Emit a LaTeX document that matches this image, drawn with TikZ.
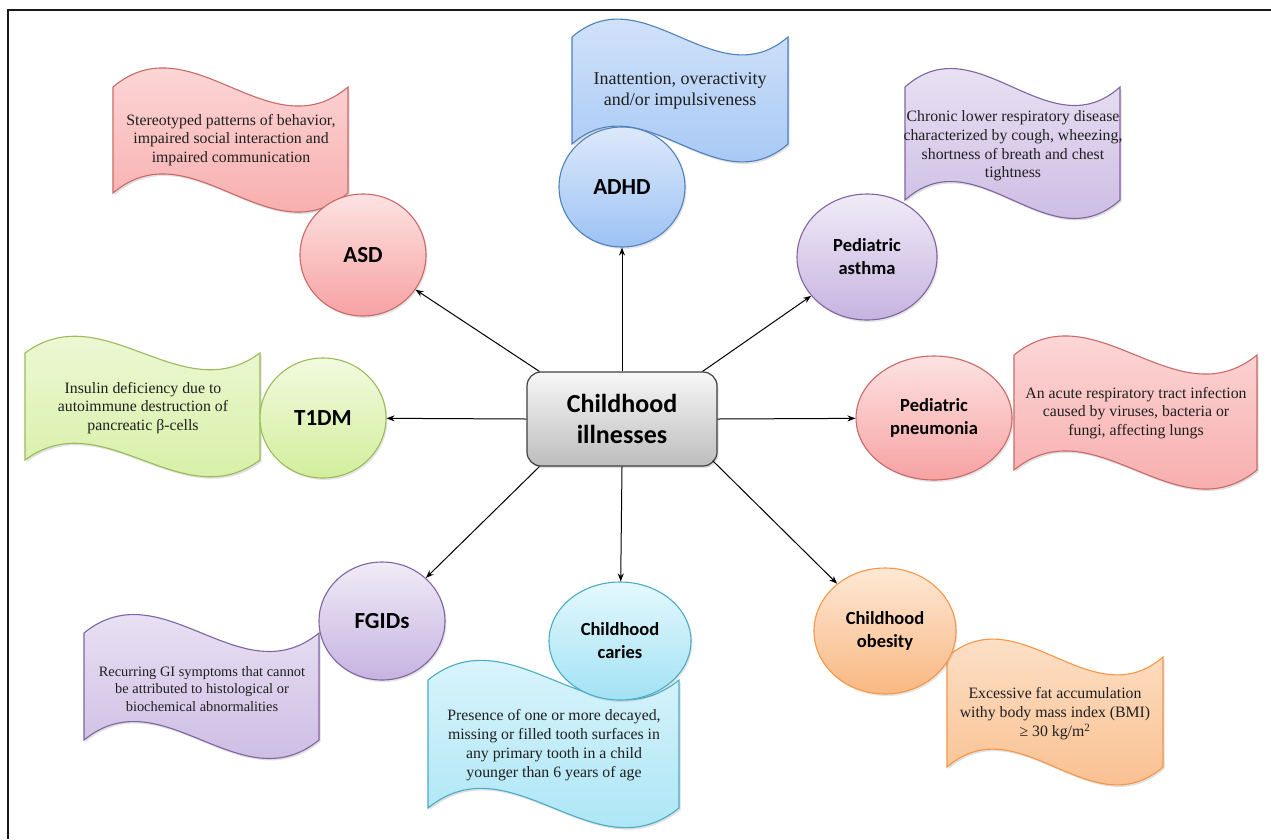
\documentclass[tikz,border=0pt]{standalone}
\usepackage{fontspec}
\setmainfont{Liberation Serif}
\newfontfamily\calb{Carlito}
\usetikzlibrary{arrows.meta,shadows,shapes.geometric,calc}

\definecolor{rtop}{HTML}{FDE2E2}\definecolor{rbot}{HTML}{F7A2A2}\definecolor{rdraw}{HTML}{C0504D}
\definecolor{btop}{HTML}{DDE9FB}\definecolor{bbot}{HTML}{9CC2F4}\definecolor{bdraw}{HTML}{4F81BD}
\definecolor{ptop}{HTML}{F0EBF7}\definecolor{pbot}{HTML}{C6B3E0}\definecolor{pdraw}{HTML}{8064A2}
\definecolor{gtop}{HTML}{F2FADF}\definecolor{gbot}{HTML}{D2EE9C}\definecolor{gdraw}{HTML}{9BBB59}
\definecolor{ctop}{HTML}{E4F8FD}\definecolor{cbot}{HTML}{A2E2F4}\definecolor{cdraw}{HTML}{4BACC6}
\definecolor{otop}{HTML}{FDE8D5}\definecolor{obot}{HTML}{F9B882}\definecolor{odraw}{HTML}{F79646}
\definecolor{stop}{HTML}{F7F7F7}\definecolor{sbot}{HTML}{BDBDBD}\definecolor{sdraw}{HTML}{404040}

\newcommand{\wavebox}[6]{% style, x, y, w, h, c
  \path[wavestyle,#1] (#2,#3) .. controls ({#2+#4/3},{#3-#6}) and ({#2+2*#4/3},{#3+#6}) .. ({#2+#4},#3)
    -- ({#2+#4},{#3+#5}) .. controls ({#2+2*#4/3},{#3+#5+#6}) and ({#2+#4/3},{#3+#5-#6}) .. (#2,{#3+#5}) -- cycle;}

\begin{document}
\begin{tikzpicture}[x=1pt,y=-1pt,
  wavestyle/.style={line width=1.1pt, drop shadow={opacity=0.25,shadow xshift=1.5pt,shadow yshift=-2pt}},
  redfill/.style={top color=rtop,bottom color=rbot,draw=rdraw!85},
  bluefill/.style={top color=btop,bottom color=bbot,draw=bdraw},
  purplefill/.style={top color=ptop,bottom color=pbot,draw=pdraw},
  greenfill/.style={top color=gtop,bottom color=gbot,draw=gdraw},
  cyanfill/.style={top color=ctop,bottom color=cbot,draw=cdraw},
  orangefill/.style={top color=otop,bottom color=obot,draw=odraw},
  bubble/.style={ellipse, line width=1.1pt, inner sep=0pt, align=center,
     drop shadow={opacity=0.2,shadow xshift=1.5pt,shadow yshift=-2pt}},
  bigl/.style={font=\calb\bfseries\fontsize{23}{27}\selectfont},
  twol/.style={font=\calb\bfseries\fontsize{18.5}{23}\selectfont},
  desc/.style={align=center, inner sep=0pt, text=black!88, font=\fontsize{15.8}{18.6}\selectfont},
  conn/.style={-{Stealth[length=8pt,width=6pt]}, line width=1pt, black}
]
\useasboundingbox (0,0) rectangle (1271,839);
\fill[white] (0,0) rectangle (1271,839);
\draw[line width=2.2pt, black!90] (8,839) -- (8,10) -- (1271,10);

% waves
\wavebox{redfill}{113}{87}{235}{106}{66}
\wavebox{bluefill}{572}{37}{216}{107}{62}
\wavebox{purplefill}{905}{87}{215}{113}{64}
\wavebox{greenfill}{25}{353}{235}{107}{58}
\wavebox{redfill}{1014}{355}{243}{115}{66}
\wavebox{purplefill}{84}{633}{235}{107}{64}
\wavebox{cyanfill}{428}{680}{251}{128}{68}
\wavebox{orangefill}{947}{657}{216}{110}{62}

% wave texts
\node[desc] (asdtxt) at (231,140) {Stereotyped patterns of behavior,\\impaired social interaction and\\impaired communication};
\node[desc, font=\fontsize{18}{21.6}\selectfont] (adhdtxt) at (680,91) {Inattention, overactivity\\and/or impulsiveness};
\node[desc] (asthtxt) at (1013,146) {Chronic lower respiratory disease\\characterized by cough, wheezing,\\shortness of breath and chest\\tightness};
\node[desc] (t1dmtxt) at (143,408) {Insulin deficiency due to\\autoimmune destruction of\\pancreatic β-cells};
\node[desc] (pnetxt) at (1136,413) {An acute respiratory tract infection\\caused by viruses, bacteria or\\fungi, affecting lungs};
\node[desc, font=\fontsize{14.4}{17.5}\selectfont] (fgtxt) at (202,689) {Recurring GI symptoms that cannot\\be attributed to histological or\\biochemical abnormalities};
\node[desc, font=\fontsize{15.8}{19}\selectfont] (cartxt) at (554,745) {Presence of one or more decayed,\\missing or filled tooth surfaces in\\any primary tooth in a child\\younger than 6 years of age};
\node[desc, font=\fontsize{15.8}{19}\selectfont] (obtxt) at (1055,714) {Excessive fat accumulation\\withy body mass index (BMI)\\≥ 30 kg/m\textsuperscript{2}};

% circles
\node[bubble, redfill, bigl, minimum width=126pt, minimum height=122pt] (asd) at (363,255) {ASD};
\node[bubble, bluefill, bigl, minimum width=126pt, minimum height=120pt] (adhd) at (622,187) {ADHD};
\node[bubble, purplefill, twol, minimum width=140pt, minimum height=126pt] (asth) at (867,257) {Pediatric\\asthma};
\node[bubble, greenfill, bigl, minimum width=126pt, minimum height=120pt] (t1dm) at (323,418) {T1DM};
\node[bubble, redfill, twol, minimum width=156pt, minimum height=124pt] (pneu) at (934,418) {Pediatric\\pneumonia};
\node[bubble, purplefill, bigl, minimum width=126pt, minimum height=118pt] (fgid) at (382,621) {FGIDs};
\node[bubble, cyanfill, twol, minimum width=142pt, minimum height=118pt] (car) at (620,641) {Childhood\\caries};
\node[bubble, orangefill, twol, minimum width=142pt, minimum height=126pt] (obe) at (885,631) {Childhood\\obesity};

% center
\node[rectangle, rounded corners=14pt, top color=stop, bottom color=sbot, draw=sdraw, line width=1.2pt,
      minimum width=190pt, minimum height=94pt, align=center, inner sep=0pt,
      font=\calb\bfseries\fontsize{26}{31}\selectfont,
      drop shadow={opacity=0.25,shadow xshift=1.5pt,shadow yshift=-2pt}] (c) at (622,419) {Childhood\\illnesses};

% connectors
\draw[conn] ([xshift=13pt]c.north west) -- (asd);
\draw[conn] (c.north) -- (adhd);
\draw[conn] ([xshift=-15pt]c.north east) -- (asth);
\draw[conn] (c.west) -- (t1dm);
\draw[conn] (c.east) -- (pneu);
\draw[conn] ([xshift=13pt]c.south west) -- (fgid);
\draw[conn] (c.south) -- (car);
\draw[conn] ([xshift=-5pt,yshift=6pt]c.south east) -- (obe);
\end{tikzpicture}
\end{document}
